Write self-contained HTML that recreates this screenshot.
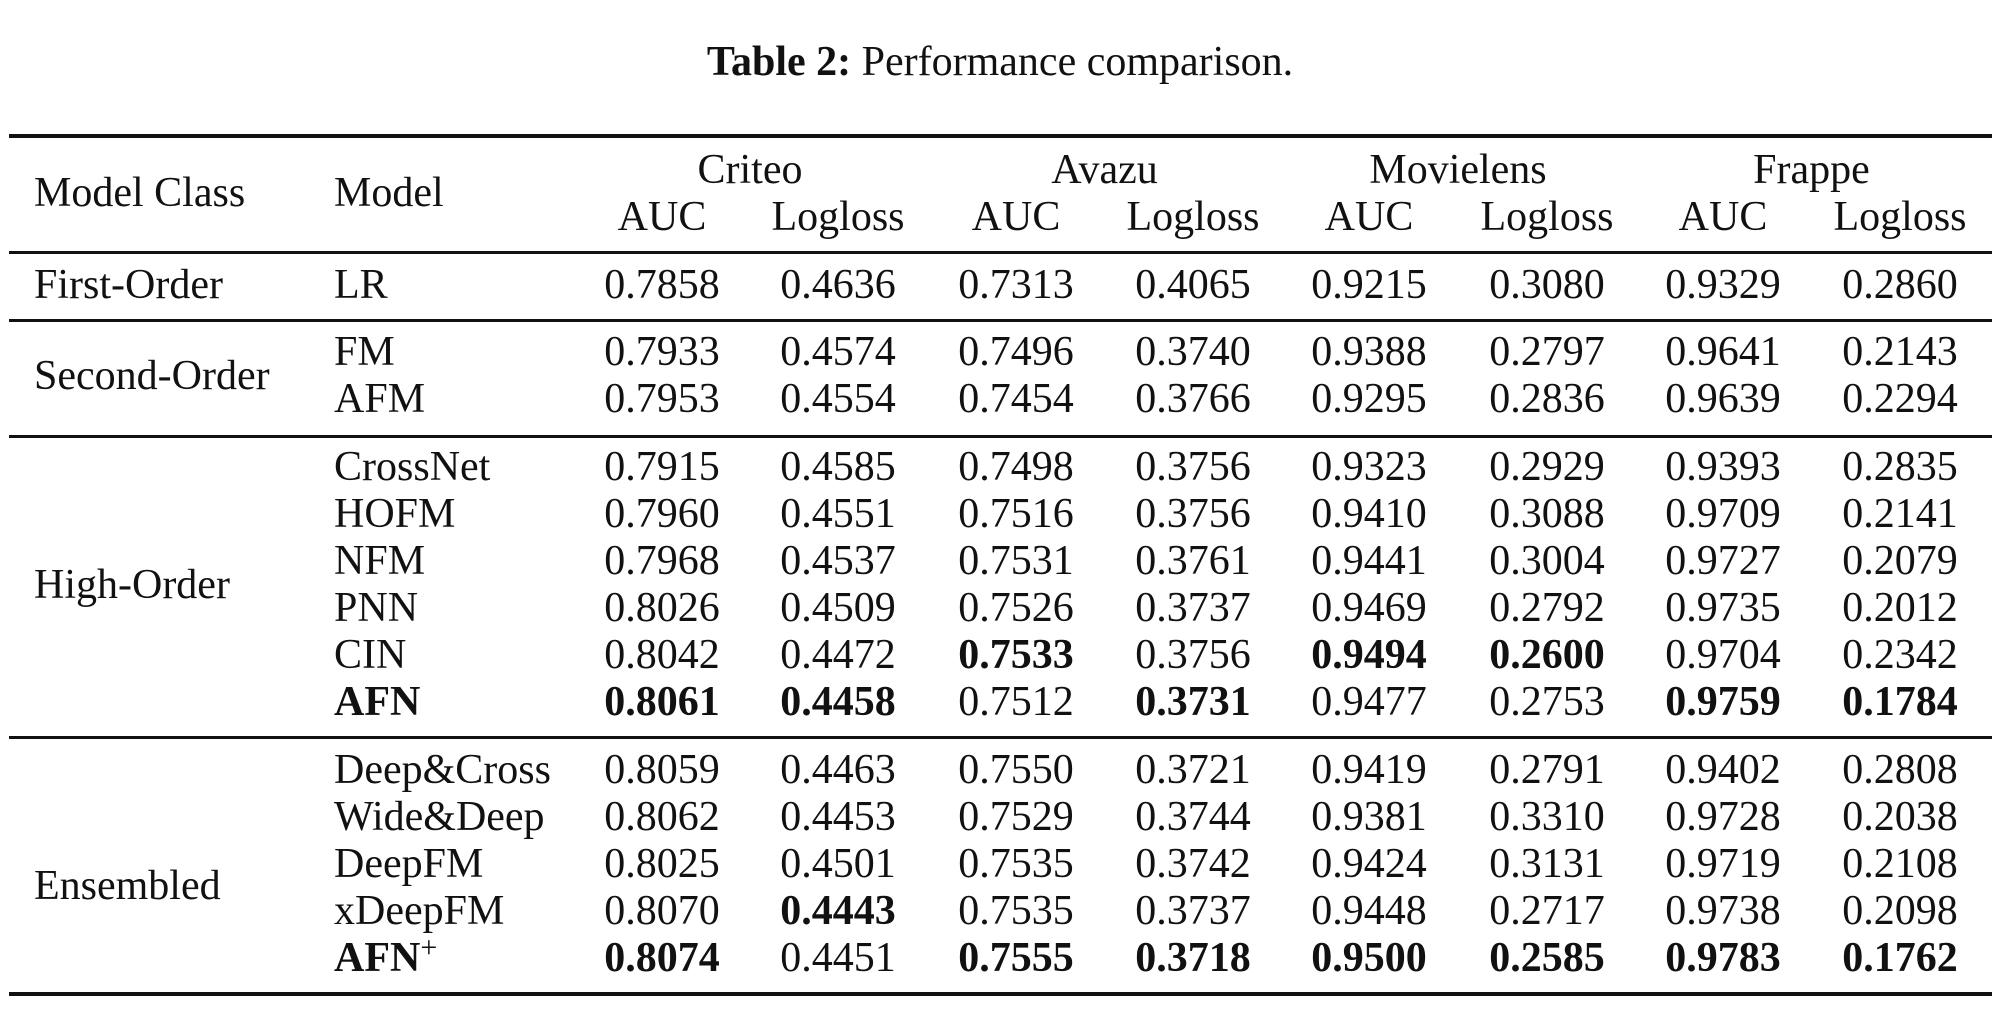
<!DOCTYPE html>
<html><head><meta charset="utf-8"><style>
body{margin:0;width:1992px;height:1014px;background:#fff;position:relative;overflow:hidden;font-family:"Liberation Serif",serif;color:#111}
.t{position:absolute;font-size:42px;line-height:1;white-space:nowrap;transform:translateY(-50%)}
.c{transform:translate(-50%,-50%)}
.b{font-weight:bold}
.r{position:absolute;left:9px;right:0;background:#111}
</style></head><body>
<div class="t c" style="left:1000px;top:62px;font-size:42px"><b>Table 2:</b> Performance comparison.</div>
<div class="r" style="top:134px;height:4px"></div>
<div class="r" style="top:251px;height:3px"></div>
<div class="r" style="top:319px;height:3px"></div>
<div class="r" style="top:435px;height:3px"></div>
<div class="r" style="top:736px;height:3px"></div>
<div class="r" style="top:992px;height:4px"></div>
<div id="g"></div>
<script>
const xs=[662,838,1016,1193,1369,1547,1723,1900];
let h='';
const T=(x,y,s,cls)=>h+=`<div class="t ${cls||''}" style="left:${x}px;top:${y}px">${s}</div>`;
T(34,193,'Model Class');T(334,193,'Model');
['Criteo','Avazu','Movielens','Frappe'].forEach((n,i)=>T((xs[2*i]+xs[2*i+1])/2,170,n,'c'));
xs.forEach((x,i)=>T(x,217,i%2?'Logloss':'AUC','c'));
const rows=[
[285,'LR','0.7858 0.4636 0.7313 0.4065 0.9215 0.3080 0.9329 0.2860'],
[352,'FM','0.7933 0.4574 0.7496 0.3740 0.9388 0.2797 0.9641 0.2143'],
[399,'AFM','0.7953 0.4554 0.7454 0.3766 0.9295 0.2836 0.9639 0.2294'],
[467,'CrossNet','0.7915 0.4585 0.7498 0.3756 0.9323 0.2929 0.9393 0.2835'],
[514,'HOFM','0.7960 0.4551 0.7516 0.3756 0.9410 0.3088 0.9709 0.2141'],
[561,'NFM','0.7968 0.4537 0.7531 0.3761 0.9441 0.3004 0.9727 0.2079'],
[608,'PNN','0.8026 0.4509 0.7526 0.3737 0.9469 0.2792 0.9735 0.2012'],
[655,'CIN','0.8042 0.4472 *0.7533 0.3756 *0.9494 *0.2600 0.9704 0.2342'],
[702,'<b>AFN</b>','*0.8061 *0.4458 0.7512 *0.3731 0.9477 0.2753 *0.9759 *0.1784'],
[770,'Deep&amp;Cross','0.8059 0.4463 0.7550 0.3721 0.9419 0.2791 0.9402 0.2808'],
[817,'Wide&amp;Deep','0.8062 0.4453 0.7529 0.3744 0.9381 0.3310 0.9728 0.2038'],
[864,'DeepFM','0.8025 0.4501 0.7535 0.3742 0.9424 0.3131 0.9719 0.2108'],
[911,'xDeepFM','0.8070 *0.4443 0.7535 0.3737 0.9448 0.2717 0.9738 0.2098'],
[958,'<b>AFN</b><span style="font-size:30px;position:relative;top:-14px">+</span>','*0.8074 0.4451 *0.7555 *0.3718 *0.9500 *0.2585 *0.9783 *0.1762']];
rows.forEach(r=>{T(334,r[0],r[1]);r[2].split(' ').forEach((v,i)=>{const b=v[0]=='*';T(xs[i],r[0],b?v.slice(1):v,'c'+(b?' b':''));});});
T(34,285,'First-Order');T(34,376,'Second-Order');T(34,585,'High-Order');T(34,886,'Ensembled');
document.getElementById('g').innerHTML=h;
</script>
</body></html>
